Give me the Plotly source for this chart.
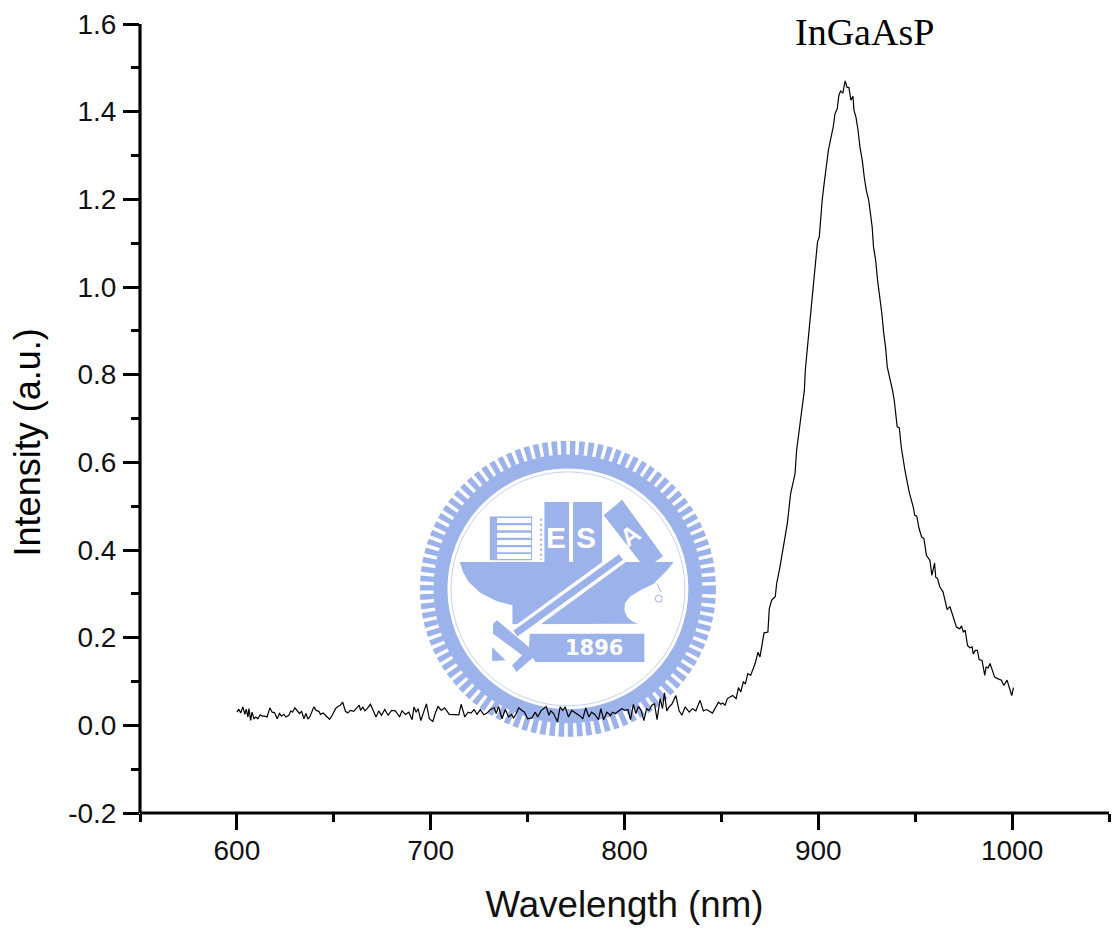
import plotly.graph_objects as go

wavelength = [600.0,601.0,601.9,603.1,604.1,604.8,605.7,606.2,607.1,607.8,608.8,609.8,610.8,612.0,613.2,614.3,615.6,617.0,618.2,619.4,620.8,622.0,623.0,624.2,625.3,626.8,627.8,628.7,629.9,631.1,632.3,633.4,634.6,635.6,636.6,637.6,639.7,640.9,642.3,643.1,644.5,645.7,647.8,649.2,650.9,652.1,653.4,654.6,656.0,657.2,658.6,660.3,661.7,663.1,663.8,
 665.0,666.0,667.2,668.9,670.1,671.8,673.2,674.6,676.3,678.0,679.8,681.8,683.9,685.2,687.0,688.7,690.4,691.4,692.5,693.5,694.9,696.2,697.8,699.3,701.1,702.4,703.8,705.5,707.2,709.6,712.8,714.5,715.7,717.6,719.3,720.8,722.4,723.9,725.6,727.4,
 729.0,730.8,732.8,733.8,735.0,736.8,738.5,740.2,741.6,742.8,744.2,745.4,747.1,748.4,750.0,752.2,754.0,755.2,756.9,759.6,761.0,762.0,763.4,765.4,766.8,768.2,769.4,771.1,772.8,775.4,777.2,778.5,780.0,781.6,783.0,784.7,786.6,787.8,789.2,790.9,792.3,
 792.6,793.8,795.2,796.9,798.6,800.4,801.8,803.1,804.6,805.8,807.2,808.6,810.0,811.4,812.7,814.1,815.5,816.8,818.4,819.6,820.6,821.8,823.0,824.4,826.5,828.2,829.6,831.3,833.4,835.0,836.8,839.0,
 840.7,842.4,845.4,848.5,849.7,850.7,851.9,853.1,855.8,857.6,858.8,860.0,861.3,862.4,863.6,865.1,867.4,868.9,869.9,872.0,874.0,874.7,875.9,877.8,878.5,880.2,882.0,884.0,885.7,888.0,888.8,890.5,892.3,
 892.8,893.3,893.8,894.5,895.4,896.2,897.1,898.3,899.1,899.6,900.5,901.2,902.0,902.9,904.0,905.2,906.4,907.7,908.6,909.8,910.6,911.5,912.0,912.7,913.4,913.9,914.8,915.8,916.3,916.8,917.9,918.4,919.4,920.4,921.5,922.7,923.7,924.8,926.0,927.0,927.8,928.5,929.6,930.6,931.8,932.8,933.7,934.7,935.6,937.3,938.3,
 939.2,940.7,941.8,942.8,944.7,946.9,949.0,949.8,950.8,952.0,953.3,954.5,955.8,957.6,958.6,960.0,960.6,961.5,962.7,964.4,966.5,967.9,971.3,973.0,973.9,974.8,975.8,977.0,978.2,979.4,979.9,981.0,982.1,983.0,984.5,985.9,986.6,987.6,988.6,991.0,992.8,994.5,995.7,997.4,999.8,1000.7]

intensity = [.030,.037,.028,.042,.025,.037,.019,.038,.011,.030,.015,.019,.015,.024,.021,.021,.019,.040,.030,.029,.015,.027,.021,.025,.019,.023,.033,.030,.040,.033,.027,.032,.015,.027,.015,.019,.042,.034,.032,.025,.028,.023,.014,.023,.038,.043,.046,.053,.032,.028,.034,.032,.038,.046,.034,
 .042,.033,.038,.048,.036,.019,.033,.023,.036,.023,.034,.033,.019,.033,.025,.030,.013,.042,.030,.038,.011,.030,.049,.015,.009,.028,.043,.034,.040,.025,.025,.024,.048,.019,.030,.028,.036,.025,.036,.024,
 .028,.036,.040,.027,.043,.015,.036,.019,.025,.017,.027,.040,.034,.030,.015,.017,.030,.019,.033,.043,.023,.033,.027,.008,.042,.034,.042,.019,.034,.027,.021,.015,.040,.019,.030,.025,.013,.038,.013,.030,.025,
 .021,.030,.027,.033,.038,.034,.036,.013,.048,.027,.043,.034,.011,.038,.034,.046,.049,.013,.061,.038,.074,.033,.042,.048,.068,.033,.023,.042,.030,.038,.033,.057,
 .033,.036,.028,.053,.048,.051,.046,.061,.068,.061,.086,.076,.099,.095,.118,.114,.141,.167,.156,.211,.213,.266,.285,.294,.323,.361,.407,.460,.528,.574,.627,.688,.741,
 .764,.810,.844,.867,.909,.947,.985,1.030,1.068,1.103,1.114,1.160,1.198,1.232,1.270,1.312,1.338,1.365,1.395,1.407,1.437,1.447,1.445,1.443,1.460,1.470,1.456,1.455,1.441,1.426,1.435,1.403,1.388,1.361,1.319,1.289,1.251,1.220,1.198,1.167,1.137,1.091,1.061,1.015,.977,.939,.897,.863,.817,.787,.764,
 .741,.681,.679,.635,.582,.532,.498,.479,.477,.449,.430,.426,.388,.376,.342,.370,.338,.335,.316,.304,.264,.271,.224,.220,.227,.213,.217,.182,.177,.179,.163,.171,.171,.150,.148,.114,.133,.131,.141,.110,.106,.103,.091,.103,.068,.086]

x_ticks = [600, 700, 800, 900, 1000]
x_labels = ["600", "700", "800", "900", "1000"]
x_minor = [550, 650, 750, 850, 950, 1050]
y_ticks = [-0.2, 0.0, 0.2, 0.4, 0.6, 0.8, 1.0, 1.2, 1.4, 1.6]
y_labels = ["-0.2", "0.0", "0.2", "0.4", "0.6", "0.8", "1.0", "1.2", "1.4", "1.6"]
y_minor = [-0.1, 0.1, 0.3, 0.5, 0.7, 0.9, 1.1, 1.3, 1.5]

W, H = 1115, 929
ML, MR, MT, MB = 139.5, 6.3, 23.5, 116.3
PW, PH = W - ML - MR, H - MT - MB
BLUE = "#9cb2ea"


def px(x):
    return (x - ML) / PW


def py(y):
    return 1 - (y - MT) / PH


def zx(v):  # watermark drawn on a 3x grid anchored at (400, 420)
    return px(400 + v / 3)


def zy(v):
    return py(420 + v / 3)


def circle(cx, cy, r, **line):
    return dict(type="circle", xref="paper", yref="paper", layer="below",
                x0=px(cx - r), x1=px(cx + r), y0=py(cy + r), y1=py(cy - r),
                line=line, fillcolor="rgba(0,0,0,0)")


def poly(points, fill=BLUE):
    d = "M" + " L".join(f"{zx(a):.5f},{zy(b):.5f}" for a, b in points) + " Z"
    return dict(type="path", xref="paper", yref="paper", layer="below", path=d,
                fillcolor=fill, line=dict(width=0))


def rect(x0, y0, x1, y1, fill=BLUE):
    return poly([(x0, y0), (x1, y0), (x1, y1), (x0, y1)], fill)


def seg(x0, y0, x1, y1, color, width, dash="solid"):
    return dict(type="line", xref="paper", yref="paper", layer="below",
                x0=zx(x0), y0=zy(y0), x1=zx(x1), y1=zy(y1),
                line=dict(color=color, width=width, dash=dash))


cx, cy = 567.5, 588.5
shapes = [
    circle(cx, cy, 141, color=BLUE, width=14, dash="5.5px,3.5px"),
    circle(cx, cy, 127.5, color=BLUE, width=14),
    circle(cx, cy, 117, color="#c5d2f2", width=1),
]
# anvil
anvil = [(178,425),(820,425),(800,450),(760,490),(720,510),(690,528),(674,548),(672,570),(680,590),(695,603),(712,610),
         (336,612),(336,555),(290,543),(240,518),(205,485),(188,455)]
shapes.append(poly(anvil))
# books
shapes.append(rect(268, 288, 395, 420))
for top in (293, 315, 337, 359, 381, 401):
    shapes.append(rect(290, top, 392, top + 15, "white"))
shapes.append(seg(422, 295, 422, 418, BLUE, 2, "2px,3px"))
shapes.append(rect(432, 245, 506, 425))
shapes.append(rect(518, 245, 605, 425))
shapes.append(poly([(610, 285), (665, 238), (788, 408), (735, 445)]))
# hammer handle and head
shapes.append(seg(668, 405, 340, 645, "white", 14))
shapes.append(seg(662, 410, 345, 640, BLUE, 7))
shapes.append(poly([(278,610),(290,600),(385,680),(400,710),(348,755),(335,735),(365,705),(278,640)]))
shapes.append(poly([(275,680),(315,720),(275,722)]))
# plate
shapes.append(poly([(388,640),(732,640),(732,725),(405,725),(385,690)]))
# hook
shapes.append(circle(400 + 775 / 3, 420 + 535 / 3, 3.5, color=BLUE, width=1))
shapes.append(seg(770, 490, 782, 515, BLUE, 1))
# axis lines (paper-anchored so the stroke is not clipped at the plot edge)
shapes.append(dict(type="line", xref="paper", yref="paper", x0=0, x1=0, y0=0, y1=1,
                   line=dict(color="black", width=3.2), layer="above"))
shapes.append(dict(type="line", xref="paper", yref="paper", x0=0, x1=1, y0=0, y1=0,
                   line=dict(color="black", width=2.8), layer="above"))

font = "Liberation Sans"
annotations = [
    dict(text="InGaAsP", xref="paper", yref="paper", x=px(864.5), y=py(32), showarrow=False,
         xanchor="center", yanchor="middle", font=dict(family="Liberation Serif", size=38, color="black")),
    dict(text="Intensity (a.u.)", xref="paper", yref="paper", x=px(27), y=py(442.5), showarrow=False,
         textangle=-90, xanchor="center", yanchor="middle", font=dict(family=font, size=36, color="black")),
]
for t, a, b, size, fam, ang in [("<b>E</b>", 467, 350, 30, font, 0),
                                ("<b>S</b>", 558, 350, 30, font, 0),
                                ("<b>A</b>", 690, 345, 25, font, -35),
                                ("<b>1896</b>", 580, 682, 21, "DejaVu Sans", 0)]:
    annotations.append(dict(text=t, xref="paper", yref="paper",
                            x=zx(a), y=zy(b), showarrow=False, textangle=ang,
                            xanchor="center", yanchor="middle",
                            font=dict(family=fam, size=size, color="white")))

fig = go.Figure(go.Scatter(x=wavelength, y=intensity, mode="lines",
                           line=dict(color="black", width=1.2), hoverinfo="skip"))
fig.update_layout(
    width=W, height=H, margin=dict(l=ML, r=MR, t=MT, b=MB, autoexpand=False),
    paper_bgcolor="white", plot_bgcolor="white", showlegend=False,
    font=dict(family=font, color="black"), shapes=shapes, annotations=annotations,
    xaxis=dict(range=[550, 1050], showgrid=False, zeroline=False, showline=False,
               tickmode="array", tickvals=x_ticks, ticktext=x_labels,
               ticks="outside", ticklen=16, tickwidth=3, tickcolor="black",
               ticklabelstandoff=-4,
               tickfont=dict(size=28, family=font, color="#111111"),
               minor=dict(tickmode="array", tickvals=x_minor, ticks="outside", ticklen=8,
                          tickwidth=3, tickcolor="black", showgrid=False),
               title=dict(text="Wavelength (nm)", font=dict(size=36.7, family=font, color="#111111"), standoff=26)),
    yaxis=dict(range=[-0.2, 1.6], showgrid=False, zeroline=False, showline=False,
               tickmode="array", tickvals=y_ticks, ticktext=y_labels,
               ticks="outside", ticklen=16, tickwidth=2.5, tickcolor="black",
               ticklabelstandoff=1,
               tickfont=dict(size=28, family=font, color="#111111"),
               minor=dict(tickmode="array", tickvals=y_minor, ticks="outside", ticklen=8,
                          tickwidth=2.5, tickcolor="black", showgrid=False)),
)
fig.write_html("out.html", config={"displayModeBar": False},
               post_script="document.body.style.margin='0';document.documentElement.style.overflow='hidden';")
